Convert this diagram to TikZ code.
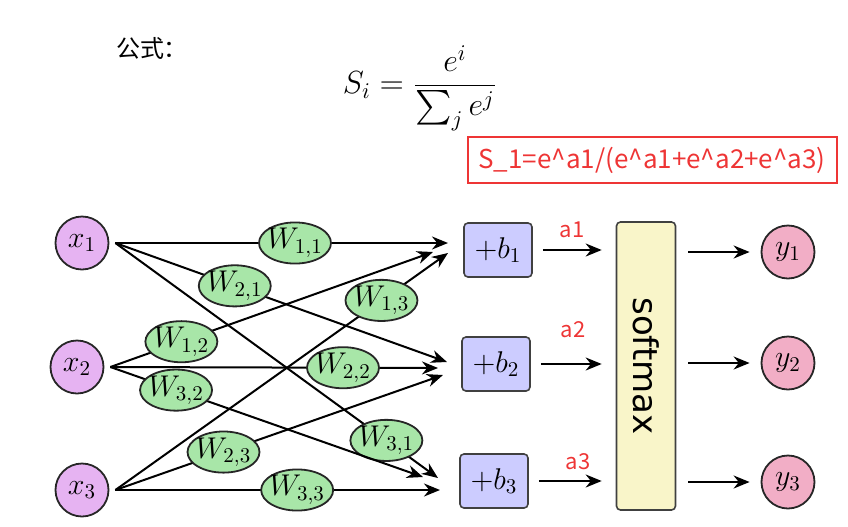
\RequirePackage{fix-cm}
\documentclass[tikz,border=0pt]{standalone}
\usepackage{amsmath}
\usepackage{fontspec}
\usepackage{tikz}
\usetikzlibrary{arrows.meta}
\usetikzlibrary{positioning, shapes.geometric}
\newfontfamily\cjkfont{Noto Sans CJK SC}
\newfontfamily\boxfont{DejaVu Sans}
\definecolor{inpurple}{HTML}{E6B3F2}
\definecolor{wgreen}{HTML}{A8E6A8}
\definecolor{bblue}{HTML}{CCCCFF}
\definecolor{smyellow}{HTML}{F9F5C9}
\definecolor{outpink}{HTML}{F2AEC6}
\definecolor{notered}{HTML}{EE3535}
\tikzset{
    innode/.style={circle, draw=black!85, fill=inpurple, line width=0.9pt, minimum size=26.5pt, inner sep=0pt, font=\fontsize{15}{18}\selectfont},
    outnode/.style={innode, fill=outpink},
    weight/.style={ellipse, draw=black!85, fill=wgreen, line width=0.9pt, minimum width=36pt, minimum height=18.5pt, inner xsep=-1.5pt, inner ysep=0pt, font=\fontsize{15}{18}\selectfont},
    biasbox/.style={rectangle, rounded corners=2pt, draw=black!75, fill=bblue, line width=0.8pt, minimum width=34pt, minimum height=27pt, inner sep=0pt, font=\fontsize{15}{18}\selectfont},
    smbox/.style={rectangle, rounded corners=2pt, draw=black!75, fill=smyellow, line width=0.8pt, minimum width=29.5pt, minimum height=144pt, inner sep=0pt, font=\boxfont\fontsize{17}{20}\selectfont},
    arr/.style={-{Stealth[length=8pt,width=6.5pt]}, line width=1pt},
    note/.style={text=notered, font=\cjkfont\fontsize{11}{13}\selectfont},
}
\begin{document}
\begin{tikzpicture}[x=0.5pt, y=-0.5pt]
    \useasboundingbox (0,0) rectangle (848,526);
    \node[font=\cjkfont\fontsize{12}{14}\selectfont] (title) at (152,48) {公式：};
    \node[font=\fontsize{16}{19}\selectfont] (formula) at (420,88) {$S_i = \dfrac{e^i}{\sum_j e^j}$};
    \node[draw=notered, line width=1pt, minimum width=184.5pt, minimum height=23pt, text=notered, font=\cjkfont\fontsize{13}{15}\selectfont] (example) at (652,160) {S\_1=e\textasciicircum a1/(e\textasciicircum a1+e\textasciicircum a2+e\textasciicircum a3)};

    \node[innode] (x1) at (82,243) {$x_1$};
    \node[innode] (x2) at (77,367) {$x_2$};
    \node[innode] (x3) at (82,490) {$x_3$};
    \coordinate (s1) at ([xshift=3pt]x1.east);
    \coordinate (s2) at ([xshift=3pt]x2.east);
    \coordinate (s3) at ([xshift=3pt]x3.east);

    \coordinate (t11) at (448,243);
    \coordinate (t12) at (433,252);
    \coordinate (t13) at (448,253);
    \coordinate (t21) at (447,362);
    \coordinate (t22) at (438,368);
    \coordinate (t23) at (443,375);
    \coordinate (t31) at (438,478);
    \coordinate (t32) at (423,477);
    \coordinate (t33) at (440,490);

    \draw[arr] (s1) -- node[weight, pos=0.54] (w11) {$W_{1,1}$} (t11);
    \draw[arr] (s1) -- node[weight, pos=0.36] (w21) {$W_{2,1}$} (t21);
    \draw[arr] (s1) -- node[weight, pos=0.84] (w31) {$W_{3,1}$} (t31);
    \draw[arr] (s2) -- node[weight, pos=0.22] (w12) {$W_{1,2}$} (t12);
    \draw[arr] (s2) -- node[weight, pos=0.71] (w22) {$W_{2,2}$} (t22);
    \draw[arr] (s2) -- node[weight, pos=0.21] (w32) {$W_{3,2}$} (t32);
    \draw[arr] (s3) -- node[weight, pos=0.80] (w13) {$W_{1,3}$} (t13);
    \draw[arr] (s3) -- node[weight, pos=0.33] (w23) {$W_{2,3}$} (t23);
    \draw[arr] (s3) -- node[weight, pos=0.56] (w33) {$W_{3,3}$} (t33);

    \node[biasbox] (b1) at (498,250) {$+b_1$};
    \node[biasbox] (b2) at (496,364) {$+b_2$};
    \node[biasbox] (b3) at (494,481) {$+b_3$};
    \node[smbox] (sm) at (646,366) {\rotatebox{-90}{softmax}};
    \node[outnode] (y1) at (788,252) {$y_1$};
    \node[outnode] (y2) at (788,363) {$y_2$};
    \node[outnode] (y3) at (788,482) {$y_3$};

    \draw[arr] ([xshift=5pt]b1.east) -- ([xshift=-7pt]b1.east -| sm.west);
    \draw[arr] ([xshift=5pt]b2.east) -- ([xshift=-7pt]b2.east -| sm.west);
    \draw[arr] ([xshift=5pt]b3.east) -- ([xshift=-7pt]b3.east -| sm.west);
    \node[note] (a1) at (572,230) {a1};
    \node[note] (a2) at (573,330) {a2};
    \node[note] (a3) at (578,462) {a3};

    \draw[arr] ([xshift=6pt]sm.east |- y1) -- ([xshift=-5.5pt]y1.west);
    \draw[arr] ([xshift=6pt]sm.east |- y2) -- ([xshift=-5.5pt]y2.west);
    \draw[arr] ([xshift=6pt]sm.east |- y3) -- ([xshift=-5.5pt]y3.west);
\end{tikzpicture}
\end{document}
